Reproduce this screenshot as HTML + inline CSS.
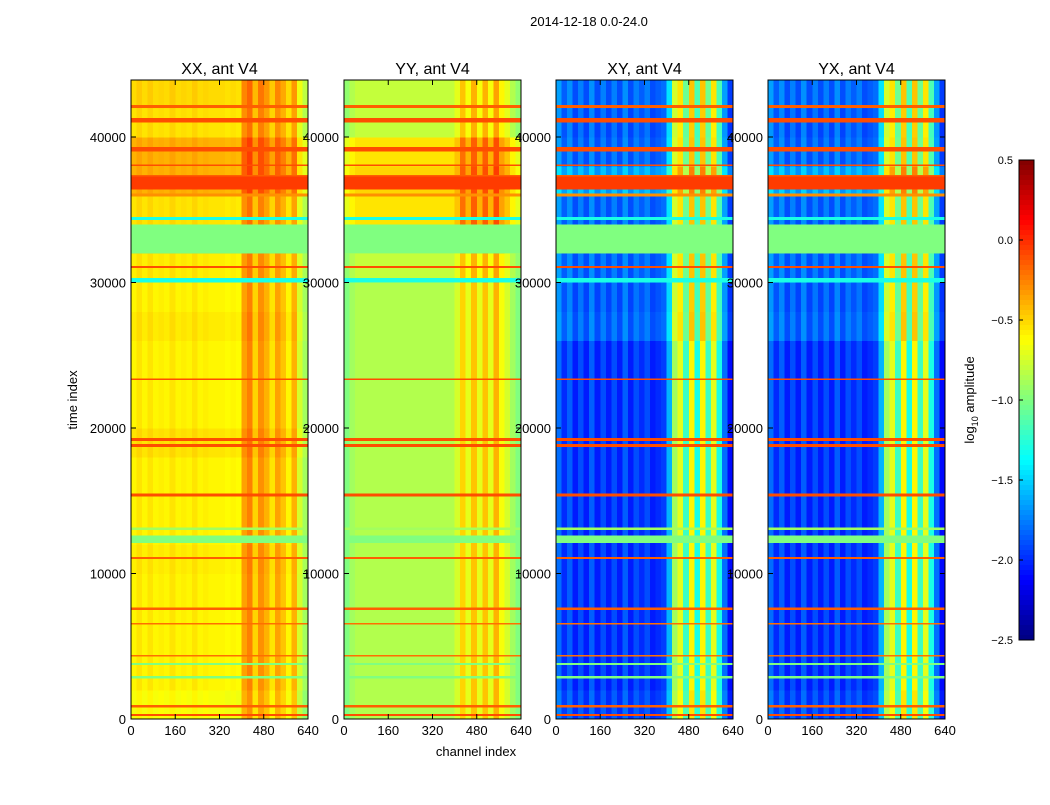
<!DOCTYPE html>
<html><head><meta charset="utf-8">
<style>
body{margin:0;background:#fff;font-family:"Liberation Sans",sans-serif;}
svg text{font-family:"Liberation Sans",sans-serif;fill:#000;}
</style></head>
<body>
<svg id="fig" width="1050" height="800" xmlns="http://www.w3.org/2000/svg">
<rect width="1050" height="800" fill="#fff"/>
<text x="589" y="26" font-size="13" text-anchor="middle">2014-12-18 0.0-24.0</text>
<text transform="translate(77,400) rotate(-90)" font-size="13" text-anchor="middle">time index</text>
<text x="476" y="756" font-size="13" text-anchor="middle">channel index</text>
<g id="panels"></g>
<g id="cbar"></g>
</svg>
<script>
// ---- data ----
const panelTitles = ["XX, ant V4","YY, ant V4","XY, ant V4","YX, ant V4"];
const xTicks = [0,160,320,480,640];
const yTicks = [0,10000,20000,30000,40000];
const cbarTicks = [0.5,0.0,-0.5,-1.0,-1.5,-2.0,-2.5];
// column profiles: 32 bins of 20 channels (log10 amplitude)
const profXX = [-0.6,-0.55,-0.6,-0.55,-0.6,-0.58,-0.6,-0.55,-0.6,-0.58,-0.6,-0.55,-0.6,-0.58,-0.6,-0.6,-0.6,-0.62,-0.6,-0.62,-0.35,-0.25,-0.5,-0.3,-0.4,-0.55,-0.35,-0.45,-0.6,-0.4,-0.75,-0.9];
const profYY = [-1.0,-0.9,-0.85,-0.85,-0.85,-0.85,-0.85,-0.85,-0.85,-0.85,-0.85,-0.85,-0.85,-0.85,-0.85,-0.85,-0.85,-0.85,-0.85,-0.85,-0.75,-0.5,-0.7,-0.45,-0.7,-0.45,-0.7,-0.4,-0.65,-0.75,-0.9,-1.0];
const profXY = [-1.8,-2.0,-1.85,-2.05,-1.9,-2.05,-1.85,-2.05,-1.9,-2.05,-1.9,-2.05,-1.85,-2.05,-1.9,-2.0,-1.9,-2.05,-2.0,-1.95,-1.6,-0.9,-0.7,-1.2,-0.6,-1.3,-0.6,-1.2,-0.7,-1.3,-1.8,-2.1];
const profYX = [-1.8,-2.0,-1.85,-2.05,-1.9,-2.05,-1.85,-2.05,-1.9,-2.05,-1.9,-2.05,-1.85,-2.05,-1.9,-2.0,-1.9,-2.05,-2.0,-1.95,-1.6,-0.9,-0.7,-1.2,-0.6,-1.3,-0.6,-1.2,-0.7,-1.3,-1.8,-2.1];
// row offsets: 22 rows of 2000 time units, from t=0 upward
const rowXX = [-0.05,0,0,0,0,0.02,0,0,0,0.05,0,0,0,0.03,0,0.02,0.05,0.05,0.2,0.2,0.05,0.08];
const rowYY = [0,0,0,0,0,0,0,0,0,0,0,0,0,0,0,0.05,0.1,0.3,0.35,0.3,0.05,0.05];
const rowXY = [0.05,0,0,0,0,0,0,0,0,0,0,0,0,0.15,0.12,0.15,0.12,0.15,0.35,0.15,0.12,0.15];
const rowYX = [0.05,0,0,0,0,0,0,0,0,0,0,0,0,0.15,0.12,0.15,0.12,0.15,0.35,0.15,0.12,0.15];
// full-width lines: start time, end time, value
const lineStart = [41000,42000,39000,36400,35900,34300,32000,31000,30000,23300,18700,19100,15300,13000,12100,11000,7500,6500,4300,3700,2800,800,200,38000,37300];
const lineEnd   = [41300,42200,39300,37300,36100,34500,34000,31150,30300,23400,18900,19300,15500,13150,12600,11150,7650,6600,4400,3850,2950,950,350,38100,37400];
const lineVal   = [-0.1,-0.15,-0.1,-0.05,-0.3,-1.3,-1.0,-0.1,-1.3,-0.1,-0.1,-0.1,-0.1,-0.9,-1.0,-0.15,-0.15,-0.2,-0.2,-1.0,-1.0,-0.15,-0.1,-0.1,-0.15];

const profs=[profXX,profYY,profXY,profYX];
const rows=[rowXX,rowYY,rowXY,rowYX];
const panelX=[131,344,556,768], PW=177, PT=80, PB=719, VMIN=-2.5, VMAX=0.5;
const ns="http://www.w3.org/2000/svg";
function el(t,a,p){const e=document.createElementNS(ns,t);for(const k in a)e.setAttribute(k,a[k]);p.appendChild(e);return e;}
function jet(v){let x=(v-VMIN)/(VMAX-VMIN);x=Math.max(0,Math.min(1,x));
 const c=f=>Math.round(255*Math.max(0,Math.min(1,f)));
 return `rgb(${c(1.5-Math.abs(4*x-3))},${c(1.5-Math.abs(4*x-2))},${c(1.5-Math.abs(4*x-1))})`;}
const yScale=t=>PB-(t/40000)*(PB-137);
const TMAX=(PB-PT)/(PB-137)*40000;
const G=document.getElementById('panels');
profs.forEach((prof,pi)=>{
 const x0=panelX[pi], xs=c=>x0+c/640*PW;
 const g=el('g',{},G);
 
 
 rows[pi].forEach((ro,ri)=>{
  const t0=ri*2000,t1=Math.min((ri+1)*2000,TMAX);
  prof.forEach((pv,ci)=>{
   const r=el('rect',{x:xs(ci*20),y:yScale(t1),width:xs((ci+1)*20)-xs(ci*20)+0.5,height:yScale(t0)-yScale(t1)+0.5,fill:jet(pv+ro),'shape-rendering':'crispEdges'},g);
   
   
  });
 });
 lineStart.forEach((s,li)=>{
  const r=el('rect',{x:x0,y:yScale(lineEnd[li]),width:PW,height:Math.max(1,yScale(s)-yScale(lineEnd[li])),fill:jet(lineVal[li]),'shape-rendering':'crispEdges'},g);
  
  
 });
 const fr=el('rect',{x:x0,y:PT,width:PW,height:PB-PT,fill:'none',stroke:'#000','stroke-width':1},g);
 
 
 const tt=el('text',{x:x0+PW/2,y:74,'font-size':16,'text-anchor':'middle'},g);tt.textContent=panelTitles[pi];
 
 
 xTicks.forEach(v=>{const x=xs(v);
  el('line',{x1:x,x2:x,y1:PB,y2:PB-5,stroke:'#000'},g);el('line',{x1:x,x2:x,y1:PT,y2:PT+5,stroke:'#000'},g);
  const t=el('text',{x:x,y:PB+16,'font-size':13,'text-anchor':'middle'},g);t.textContent=v;
  
  });
 yTicks.forEach(v=>{const y=yScale(v);
  el('line',{x1:x0,x2:x0+5,y1:y,y2:y,stroke:'#000'},g);el('line',{x1:x0+PW,x2:x0+PW-5,y1:y,y2:y,stroke:'#000'},g);
  const t=el('text',{x:x0-5,y:y+5,'font-size':13,'text-anchor':'end'},g);t.textContent=v;
  
  });
});
// colorbar
const CB=document.getElementById('cbar');
const cy=v=>160+(VMAX-v)/(VMAX-VMIN)*480;
for(let i=0;i<96;i++){const v=VMAX-(i+0.5)*(VMAX-VMIN)/96;
 const r=el('rect',{x:1019,y:160+i*5,width:15,height:5.5,fill:jet(v),'shape-rendering':'crispEdges'},CB);
 
 }
const cf=el('rect',{x:1019,y:160,width:15,height:480,fill:'none',stroke:'#000'},CB);


cbarTicks.forEach(v=>{const y=cy(v);
 el('line',{x1:1019,x2:1023,y1:y,y2:y,stroke:'#000'},CB);
 const t=el('text',{x:1013,y:y+4,'font-size':11,'text-anchor':'end'},CB);t.textContent=(v<0?'\u2212'+Math.abs(v).toFixed(1):v.toFixed(1));
 
 });
const cl=el('text',{transform:'translate(974,400) rotate(-90)','font-size':13,'text-anchor':'middle'},CB);
cl.innerHTML='log<tspan font-size="9" dy="4">10</tspan><tspan dy="-4"> amplitude</tspan>';


</script>
</body></html>
